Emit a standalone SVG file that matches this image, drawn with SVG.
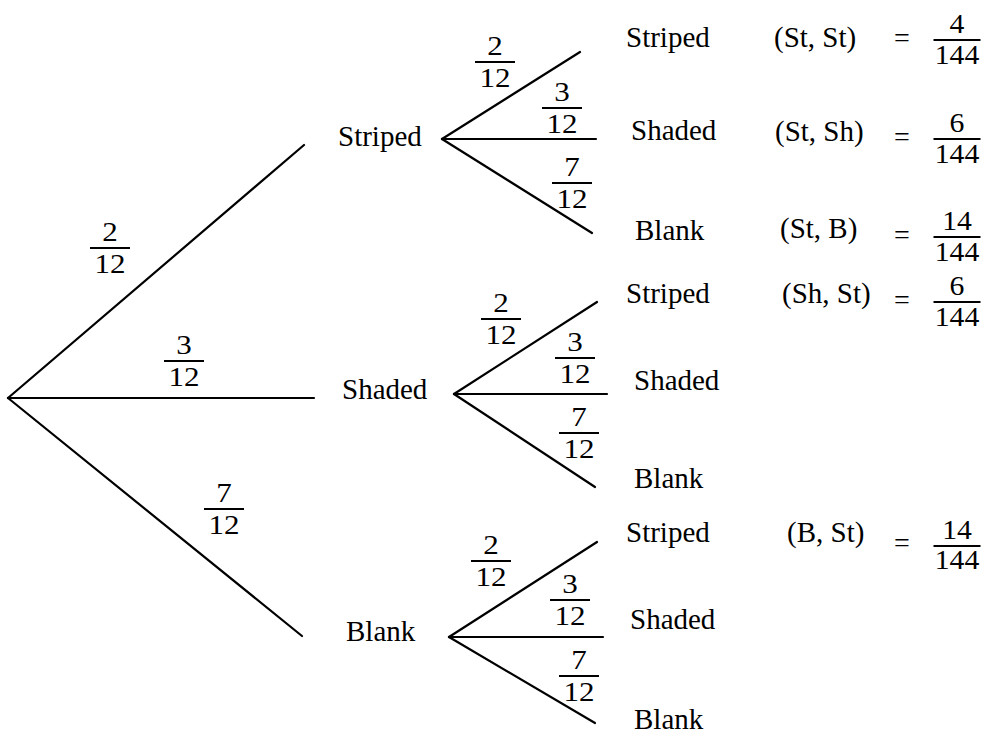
<svg xmlns="http://www.w3.org/2000/svg" width="984" height="736" viewBox="0 0 984 736" font-family="'Liberation Serif', 'DejaVu Serif', serif">
<style>
  .lbl { font-family: 'Liberation Serif', 'DejaVu Serif', serif; font-size: 29px; fill: #000; }
  .fr text { font-family: 'Liberation Serif', 'DejaVu Serif', serif; font-size: 27px; fill: #000; text-anchor: middle; }
  .fr line { stroke: #000; stroke-width: 2; }
  .eq { font-family: 'Liberation Serif', 'DejaVu Serif', serif; font-size: 28px; fill: #000; text-anchor: middle; }
  .edge { stroke: #000; stroke-width: 2.2; fill: none; stroke-linecap: round; }
</style>
<rect width="984" height="736" fill="#fff"/>

<g id="connectors">
  <line class="edge" x1="8" y1="398" x2="304" y2="145"/>
  <line class="edge" x1="8" y1="398" x2="314" y2="398"/>
  <line class="edge" x1="8" y1="398" x2="302" y2="636"/>
  <line class="edge" x1="442" y1="139" x2="580" y2="52"/>
  <line class="edge" x1="442" y1="139" x2="596" y2="139"/>
  <line class="edge" x1="442" y1="139" x2="592" y2="233"/>
  <line class="edge" x1="454" y1="394" x2="597" y2="302"/>
  <line class="edge" x1="454" y1="394" x2="607" y2="394"/>
  <line class="edge" x1="454" y1="394" x2="595" y2="487"/>
  <line class="edge" x1="449" y1="637" x2="597" y2="542"/>
  <line class="edge" x1="449" y1="637" x2="603" y2="637"/>
  <line class="edge" x1="449" y1="637" x2="595" y2="723"/>
</g>

<g id="edge-labels">
  <g class="fr" transform="translate(110,248)"><line x1="-20" y1="0" x2="20" y2="0"/><text transform="scale(1.15,1)" y="-7">2</text><text transform="scale(1.15,1)" y="25">12</text></g>
  <g class="fr" transform="translate(184,361)"><line x1="-20" y1="0" x2="20" y2="0"/><text transform="scale(1.15,1)" y="-7">3</text><text transform="scale(1.15,1)" y="25">12</text></g>
  <g class="fr" transform="translate(224,509)"><line x1="-20" y1="0" x2="20" y2="0"/><text transform="scale(1.15,1)" y="-7">7</text><text transform="scale(1.15,1)" y="25">12</text></g>

  <g class="fr" transform="translate(495,62)"><line x1="-20" y1="0" x2="20" y2="0"/><text transform="scale(1.15,1)" y="-7">2</text><text transform="scale(1.15,1)" y="25">12</text></g>
  <g class="fr" transform="translate(562,108)"><line x1="-20" y1="0" x2="20" y2="0"/><text transform="scale(1.15,1)" y="-7">3</text><text transform="scale(1.15,1)" y="25">12</text></g>
  <g class="fr" transform="translate(572,183)"><line x1="-20" y1="0" x2="20" y2="0"/><text transform="scale(1.15,1)" y="-7">7</text><text transform="scale(1.15,1)" y="25">12</text></g>

  <g class="fr" transform="translate(501,319)"><line x1="-20" y1="0" x2="20" y2="0"/><text transform="scale(1.15,1)" y="-7">2</text><text transform="scale(1.15,1)" y="25">12</text></g>
  <g class="fr" transform="translate(575,358)"><line x1="-20" y1="0" x2="20" y2="0"/><text transform="scale(1.15,1)" y="-7">3</text><text transform="scale(1.15,1)" y="25">12</text></g>
  <g class="fr" transform="translate(579,433)"><line x1="-20" y1="0" x2="20" y2="0"/><text transform="scale(1.15,1)" y="-7">7</text><text transform="scale(1.15,1)" y="25">12</text></g>

  <g class="fr" transform="translate(491,561)"><line x1="-20" y1="0" x2="20" y2="0"/><text transform="scale(1.15,1)" y="-7">2</text><text transform="scale(1.15,1)" y="25">12</text></g>
  <g class="fr" transform="translate(570,600)"><line x1="-20" y1="0" x2="20" y2="0"/><text transform="scale(1.15,1)" y="-7">3</text><text transform="scale(1.15,1)" y="25">12</text></g>
  <g class="fr" transform="translate(579,676)"><line x1="-20" y1="0" x2="20" y2="0"/><text transform="scale(1.15,1)" y="-7">7</text><text transform="scale(1.15,1)" y="25">12</text></g>
</g>

<g id="n-striped"><text class="lbl" x="338" y="146">Striped</text></g>
<g id="n-shaded"><text class="lbl" x="342" y="399">Shaded</text></g>
<g id="n-blank"><text class="lbl" x="346" y="641">Blank</text></g>

<g id="n-st-st">
  <text class="lbl" x="626" y="47">Striped</text>
  <text class="lbl" x="774" y="47">(St, St)</text>
  <text class="eq" x="902" y="47">=</text>
  <g class="fr" transform="translate(957,40)"><line x1="-23.5" y1="0" x2="23.5" y2="0"/><text transform="scale(1.1,1)" y="-7">4</text><text transform="scale(1.1,1)" y="24">144</text></g>
</g>
<g id="n-st-sh">
  <text class="lbl" x="631" y="140">Shaded</text>
  <text class="lbl" x="775" y="141">(St, Sh)</text>
  <text class="eq" x="902" y="146">=</text>
  <g class="fr" transform="translate(957,139)"><line x1="-23.5" y1="0" x2="23.5" y2="0"/><text transform="scale(1.1,1)" y="-7">6</text><text transform="scale(1.1,1)" y="24">144</text></g>
</g>
<g id="n-st-b">
  <text class="lbl" x="635" y="240">Blank</text>
  <text class="lbl" x="780" y="238">(St, B)</text>
  <text class="eq" x="902" y="244">=</text>
  <g class="fr" transform="translate(957,237)"><line x1="-23.5" y1="0" x2="23.5" y2="0"/><text transform="scale(1.1,1)" y="-7">14</text><text transform="scale(1.1,1)" y="24">144</text></g>
</g>

<g id="n-sh-st">
  <text class="lbl" x="626" y="303">Striped</text>
  <text class="lbl" x="782" y="303">(Sh, St)</text>
  <text class="eq" x="902" y="309">=</text>
  <g class="fr" transform="translate(957,302)"><line x1="-23.5" y1="0" x2="23.5" y2="0"/><text transform="scale(1.1,1)" y="-7">6</text><text transform="scale(1.1,1)" y="24">144</text></g>
</g>
<g id="n-sh-sh"><text class="lbl" x="634" y="390">Shaded</text></g>
<g id="n-sh-b"><text class="lbl" x="634" y="488">Blank</text></g>

<g id="n-b-st">
  <text class="lbl" x="626" y="542">Striped</text>
  <text class="lbl" x="787" y="542">(B, St)</text>
  <text class="eq" x="902" y="552">=</text>
  <g class="fr" transform="translate(957,546)"><line x1="-23.5" y1="0" x2="23.5" y2="0"/><text transform="scale(1.1,1)" y="-7">14</text><text transform="scale(1.1,1)" y="23">144</text></g>
</g>
<g id="n-b-sh"><text class="lbl" x="630" y="629">Shaded</text></g>
<g id="n-b-b"><text class="lbl" x="634" y="729">Blank</text></g>
</svg>
